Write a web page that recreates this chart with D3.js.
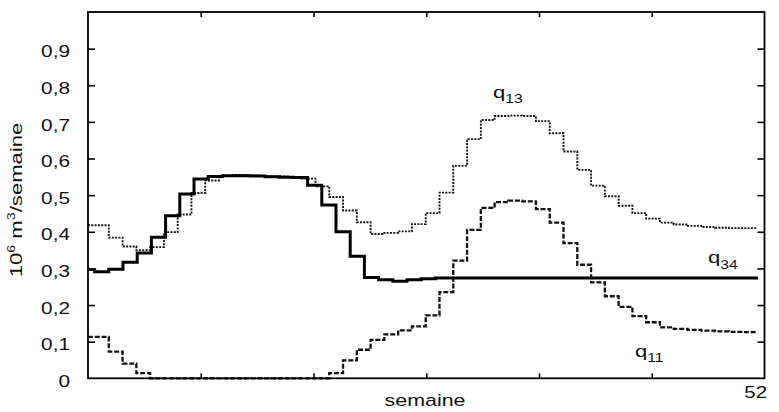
<!DOCTYPE html>
<html><head><meta charset="utf-8">
<script src="https://cdn.jsdelivr.net/npm/d3@7/dist/d3.min.js"></script>
<style>html,body{margin:0;padding:0;background:#fff;} svg{display:block;}</style>
</head><body>
<svg id="chart" width="779" height="412"></svg>
<script>
// ---- data (10^6 m3 / semaine), one value per step ----
const q13 = [0.418,0.418,0.384,0.360,0.350,0.358,0.399,0.447,0.506,0.540,
             0.552,0.555,0.554,0.552,0.551,0.549,0.545,0.524,0.495,0.458,
             0.426,0.394,0.397,0.401,0.421,0.451,0.507,0.580,0.653,0.705,
             0.716,0.717,0.716,0.702,0.669,0.619,0.569,0.526,0.497,0.471,
             0.451,0.436,0.425,0.420,0.416,0.413,0.411,0.410,0.410];
const q11 = [0.113,0.113,0.073,0.040,0.014,0,0,0,0,0,
             0,0,0,0,0,0,0,0,0.014,0.049,
             0.078,0.105,0.120,0.131,0.142,0.172,0.235,0.321,0.405,0.465,
             0.481,0.485,0.483,0.462,0.425,0.369,0.310,0.262,0.224,0.195,
             0.170,0.153,0.139,0.135,0.132,0.130,0.128,0.127,0.126];
const q34 = [0.297,0.291,0.298,0.317,0.342,0.385,0.444,0.503,0.544,0.551,
             0.553,0.553,0.552,0.550,0.549,0.548,0.527,0.473,0.400,0.333,
             0.275,0.269,0.265,0.269,0.272,0.274,0.274,0.274,0.274,0.274,
             0.274,0.274,0.274,0.274,0.274,0.274,0.274,0.274,0.274,0.274,
             0.274,0.274,0.274,0.274,0.274,0.274,0.274,0.274];
// step grids in semaines: first interior step edge, step length, last edge
const grid13 = {first: 0.538, step: 1.0592, end: 51.40};
const grid34 = {first: 0.507, step: 1.0915, end: 51.50};
const seriesNames = ["q13", "q34", "q11"];
const seriesSub = ["13", "34", "11"];
const yTicks = [0,0.1,0.2,0.3,0.4,0.5,0.6,0.7,0.8,0.9];
const xTicks = [52/6, 2*52/6, 3*52/6, 4*52/6, 5*52/6];
const xDomain = [0, 52];
const yDomain = [0, 1];

// ---- layout ----
const L = 88, R = 764.5, T = 12, B = 378.3;
const FONT = "'Liberation Sans', Arial, Helvetica, sans-serif";
const SX = 1.3;
const svg = d3.select("#chart");
const x = d3.scaleLinear().domain(xDomain).range([L, R]);
const y = d3.scaleLinear().domain(yDomain).range([B, T]);

function stepPoints(vals, g) {
  const pts = vals.map((v, i) => [i === 0 ? 0 : g.first + (i - 1) * g.step, v]);
  pts.push([Math.min(g.first + (vals.length - 1) * g.step, g.end), vals[vals.length - 1]]);
  return pts;
}
const line = d3.line().x(d => x(d[0])).y(d => y(d[1])).curve(d3.curveStepAfter);

// series
svg.append("path").attr("d", line(stepPoints(q13, grid13)))
  .attr("fill", "none").attr("stroke", "#111").attr("stroke-width", 1.9)
  .attr("stroke-dasharray", "2,1.3");
svg.append("path").attr("d", line(stepPoints(q11, grid13)))
  .attr("fill", "none").attr("stroke", "#111").attr("stroke-width", 2.3)
  .attr("stroke-dasharray", "5,1.8");
svg.append("path").attr("d", line(stepPoints(q34, grid34)))
  .attr("fill", "none").attr("stroke", "#000").attr("stroke-width", 3)
  .attr("stroke-linejoin", "miter");

// axes (ticks inward on all four sides)
svg.append("g").attr("transform", `translate(${L},0)`)
  .call(d3.axisLeft(y).tickValues(yTicks.slice(1)).tickSize(-7).tickFormat("")).call(g => g.select(".domain").remove());
svg.append("g").attr("transform", `translate(${R},0)`)
  .call(d3.axisRight(y).tickValues(yTicks.slice(1)).tickSize(-7).tickFormat("")).call(g => g.select(".domain").remove());
svg.append("g").attr("transform", `translate(0,${B})`)
  .call(d3.axisBottom(x).tickValues(xTicks).tickSize(-5).tickFormat("")).call(g => g.select(".domain").remove());
svg.append("g").attr("transform", `translate(0,${T})`)
  .call(d3.axisTop(x).tickValues(xTicks).tickSize(-5).tickFormat("")).call(g => g.select(".domain").remove());
svg.selectAll(".tick line").attr("stroke", "#000").attr("stroke-width", 1.6);

// frame
svg.append("rect").attr("x", L).attr("y", T).attr("width", R - L).attr("height", B - T)
  .attr("fill", "none").attr("stroke", "#000").attr("stroke-width", 1.8);

// y tick labels
const fmt = v => v === 0 ? "0" : d3.format(".1f")(v).replace(".", ",");
svg.append("g").selectAll("text").data(yTicks).join("text")
  .attr("transform", d => `translate(70,${y(d) + 8.7}) scale(${SX},1)`)
  .attr("text-anchor", "end").attr("font-family", FONT).attr("font-size", 16).attr("fill", "#111")
  .text(fmt);

// axis titles
svg.append("text").attr("transform", `translate(425,406) scale(${SX},1)`)
  .attr("text-anchor", "middle").attr("font-family", FONT).attr("font-size", 16.5).attr("fill", "#111")
  .text("semaine");
svg.append("text").attr("transform", `translate(767,397.5) scale(1.2,1)`)
  .attr("text-anchor", "end").attr("font-family", FONT).attr("font-size", 17).attr("fill", "#111")
  .text("52");
const yl = svg.append("text").attr("transform", `translate(22,200) rotate(-90) scale(${SX},1)`)
  .attr("text-anchor", "middle").attr("font-family", FONT).attr("font-size", 17).attr("fill", "#111");
yl.append("tspan").text("10");
yl.append("tspan").attr("font-size", 11).attr("dy", -7).text("6");
yl.append("tspan").attr("dy", 7).text(" m");
yl.append("tspan").attr("font-size", 11).attr("dy", -7).text("3");
yl.append("tspan").attr("dy", 7).text("/semaine");

// series labels
const labelPos = [[493, 97.5], [708, 263], [635, 356.5]];
seriesNames.forEach((n, i) => {
  const t = svg.append("text")
    .attr("transform", `translate(${labelPos[i][0]},${labelPos[i][1]}) scale(${SX},1)`)
    .attr("font-family", FONT).attr("font-size", 17).attr("fill", "#111");
  t.append("tspan").text("q");
  t.append("tspan").attr("font-size", 12).attr("dy", 5.5).text(seriesSub[i]);
});
</script>
</body></html>
